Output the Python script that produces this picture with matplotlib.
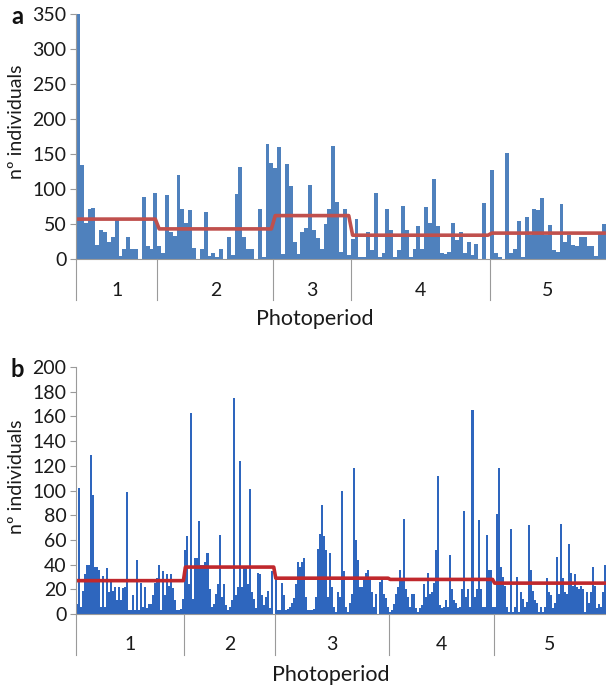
import numpy as np
import matplotlib
matplotlib.use("Agg")
from matplotlib import pyplot as plt
from matplotlib import transforms

plt.rcParams["font.family"] = ["Lato", "DejaVu Sans"]

# panel a: counts per sample, grouped by photoperiod
a_groups = ["1", "2", "3", "4", "5"]
a_g1 = [350, 135, 52, 71, 73, 20, 42, 38, 24, 31, 56, 4, 14, 31, 15, 15, 0, 88, 18, 14, 95]
a_g2 = [18, 9, 92, 38, 33, 120, 72, 52, 70, 16, 0, 15, 67, 5, 8, 3, 14, 0, 31, 6,
        93, 131, 31, 15, 15, 0, 71, 3, 165, 137]
a_g3 = [130, 160, 7, 136, 105, 24, 7, 38, 44, 106, 41, 30, 15, 50, 72, 162, 81, 10, 71, 6]
a_g4 = [28, 57, 3, 3, 39, 13, 94, 3, 8, 71, 41, 3, 13, 76, 42, 3, 14, 47, 14, 74,
        52, 114, 47, 8, 7, 10, 51, 27, 39, 8, 25, 6, 21, 0, 80, 0]
a_g5 = [127, 8, 3, 0, 151, 8, 14, 54, 3, 60, 34, 72, 70, 87, 35, 49, 13, 10, 78, 25,
        34, 20, 19, 31, 31, 19, 19, 5, 37, 50]
a_means = [57, 43, 62, 34, 37]

# panel b
b_groups = ["1", "2", "3", "4", "5"]
b_g1 = [8, 102, 6, 19, 32, 40, 40, 129, 96, 38, 38, 36, 6, 31, 6, 37, 18, 26, 19, 22,
        11, 22, 11, 21, 22, 99, 3, 3, 15, 3, 44, 3, 25, 6, 22, 5, 8, 8, 15, 25,
        29, 40, 3, 35, 15, 32, 23, 32, 21, 11, 3, 3, 4, 12]
b_g2 = [52, 63, 24, 163, 12, 45, 45, 75, 40, 40, 42, 49, 20, 6, 8, 16, 24, 64, 14, 24,
        7, 3, 6, 11, 175, 15, 22, 124, 22, 38, 38, 24, 101, 18, 12, 5, 33, 32, 15, 7,
        14, 19, 5, 35, 0]
b_g3 = [28, 3, 3, 25, 15, 3, 4, 6, 9, 13, 24, 42, 38, 42, 45, 14, 3, 3, 3, 4,
        14, 53, 65, 88, 63, 52, 14, 49, 22, 6, 2, 18, 14, 100, 35, 6, 2, 9, 16, 118,
        60, 44, 22, 22, 28, 33, 36, 28, 18, 6, 16, 0, 26, 28, 16, 13, 6]
b_g4 = [2, 3, 8, 16, 22, 36, 29, 77, 20, 14, 6, 16, 16, 5, 2, 5, 7, 24, 14, 33,
        16, 18, 25, 52, 112, 7, 5, 6, 11, 6, 48, 20, 11, 9, 5, 6, 20, 83, 14, 20,
        6, 165, 14, 20, 76, 20, 6, 6, 64, 36, 36, 6]
b_g5 = [6, 81, 118, 38, 30, 23, 6, 2, 69, 2, 6, 30, 2, 18, 12, 6, 10, 72, 36, 19,
        11, 9, 2, 6, 2, 6, 29, 18, 15, 5, 9, 46, 16, 73, 29, 18, 16, 57, 33, 23,
        32, 22, 20, 23, 20, 2, 18, 9, 18, 38, 23, 5, 8, 6, 18, 40]
b_means = [27, 38, 29, 28, 25]

W, H = 606, 688
fig = plt.figure(figsize=(W / 100, H / 100), dpi=100)

GRAY = "#9a9a9a"
TXT = "#1a1a1a"


def panel(rect, groups, names, means, ymax, ystep, bar_col, line_col, ylab_y):
    ax = fig.add_axes(rect)
    vals = np.concatenate(groups)
    n = len(vals)
    x = np.arange(n)
    ax.bar(x, vals, width=1.0, color=bar_col, linewidth=0)
    mline = np.concatenate([[m] * len(g) for g, m in zip(groups, means)])
    ax.plot(x, mline, color=line_col, lw=2.6, solid_joinstyle="round")

    ax.set_xlim(-0.5, n - 0.5)
    ax.set_ylim(0, ymax)
    ax.set_yticks(np.arange(0, ymax + 1, ystep))
    ax.set_xticks([])
    for s in ["top", "right"]:
        ax.spines[s].set_visible(False)
    for s in ["left", "bottom"]:
        ax.spines[s].set_color(GRAY)
        ax.spines[s].set_linewidth(0.8)
    ax.tick_params(axis="y", length=4, width=0.8, color=GRAY, labelsize=14,
                   labelcolor=TXT, pad=3)

    trans = transforms.blended_transform_factory(ax.transData, ax.transAxes)
    edges = np.cumsum([0] + [len(g) for g in groups]) - 0.5
    sep_depth = 41 / (rect[3] * H)
    for e in edges[:-1]:
        ax.plot([e, e], [0, -sep_depth], color=GRAY, lw=0.8,
                transform=trans, clip_on=False)
    lab_y = -31 / (rect[3] * H)
    for i, nm in enumerate(names):
        lo = edges[i]
        hi = min(edges[i + 1], n - 0.5)
        ax.text((lo + hi) / 2, lab_y, nm, transform=trans, ha="center", va="center",
                fontsize=14, color=TXT)

    ax.set_ylabel("nº individuals", fontsize=14, color=TXT)
    ax.yaxis.set_label_coords(-0.096, ylab_y)
    return ax


ax_a = panel([76 / W, 1 - 259 / H, 530 / W, 245 / H],
             [a_g1, a_g2, a_g3, a_g4, a_g5], a_groups, a_means,
             350, 50, "#4F81BD", "#C0504D", 0.56)
ax_b = panel([76 / W, 1 - 614 / H, 530 / W, 247 / H],
             [b_g1, b_g2, b_g3, b_g4, b_g5], b_groups, b_means,
             200, 20, "#2E66BE", "#C0282D", 0.555)

fig.text(315 / W, 1 - 319 / H, "Photoperiod", ha="center", va="center",
         fontsize=15.5, color=TXT)
fig.text(331 / W, 1 - 675 / H, "Photoperiod", ha="center", va="center",
         fontsize=15.5, color=TXT)
fig.text(17 / W, 1 - 17 / H, "a", ha="center", va="center",
         fontsize=17, fontweight="bold", color="#111111")
fig.text(17 / W, 1 - 370 / H, "b", ha="center", va="center",
         fontsize=17, fontweight="bold", color="#111111")

fig.savefig("out.png", dpi=100)
